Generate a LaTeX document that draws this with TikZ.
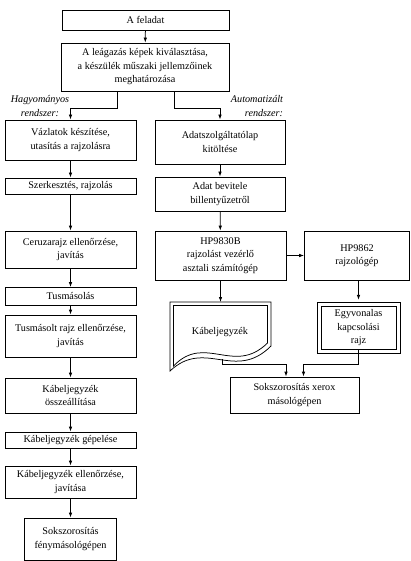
\documentclass[tikz,border=0pt]{standalone}
\usepackage{fontspec}
\setmainfont{Liberation Serif}
\usetikzlibrary{calc,arrows.meta}
\usetikzlibrary{positioning}

\begin{document}
\begin{tikzpicture}[x=1pt,y=-1pt,
  every node/.style={font=\fontsize{10.2}{13.5}\selectfont},
  blok/.style={draw, line width=0.75pt, align=center, inner sep=1pt},
  nyil/.style={line width=0.75pt, -{Latex[length=5pt,width=3.5pt]}}]
\useasboundingbox (0,0) rectangle (411,561);
% bal oszlop
\node[blok, minimum width=167pt, minimum height=20pt](feladat) at (145.5,20){A feladat};
\node[blok, minimum width=168pt, minimum height=48pt](leagazas) at (145,67){A leágazás képek kiválasztása,\\a készülék műszaki jellemzőinek\\meghatározása};
\node[font=\fontsize{10.2}{13.5}\selectfont\itshape, align=center](hagy) at (40,106){Hagyományos\\rendszer:};
\node[font=\fontsize{10.2}{13.5}\selectfont\itshape, align=right](auto) at (257,106){Automatizált\\rendszer:};
\node[blok, minimum width=131pt, minimum height=40pt](vazlat) at (70.5,140){Vázlatok készítése,\\utasítás a rajzolásra};
\node[blok, minimum width=131pt, minimum height=16pt](szerk) at (70.5,186){Szerkesztés, rajzolás};
\node[blok, minimum width=131pt, minimum height=37pt](ceruza) at (70.5,249.5){Ceruzarajz ellenőrzése,\\javítás};
\node[blok, minimum width=131pt, minimum height=18pt](tusmas) at (70.5,296.5){Tusmásolás};
\node[blok, minimum width=131pt, minimum height=42pt](tusmasolt) at (70.5,336){Tusmásolt rajz ellenőrzése,\\javítás};
\node[blok, minimum width=131pt, minimum height=35pt](kabossz) at (70.5,395.5){Kábeljegyzék\\összeállítása};
\node[blok, minimum width=131pt, minimum height=16pt](gepeles) at (70.5,440){Kábeljegyzék gépelése};
\node[blok, minimum width=131pt, minimum height=32pt](kabell) at (70.5,482){Kábeljegyzék ellenőrzése,\\javítása};
\node[blok, minimum width=92pt, minimum height=42pt](fenymas) at (70.5,539){Sokszorosítás\\fénymásológépen};
% jobb oszlop
\node[blok, minimum width=130pt, minimum height=44pt](adatlap) at (220,142){Adatszolgáltatólap\\kitöltése};
\node[blok, minimum width=130pt, minimum height=34pt](bevitel) at (220,194){Adat bevitele\\billentyűzetről};
\node[blok, minimum width=131pt, minimum height=49pt](hp30) at (220.5,255.5){HP9830B\\rajzolást vezérlő\\asztali számítógép};
\node[blok, minimum width=105pt, minimum height=49pt](hp62) at (357,255.5){HP9862\\rajzológép};
\node[blok, minimum width=75pt, minimum height=43pt](egyvon) at (358.5,328){Egyvonalas\\kapcsolási\\rajz};
\draw[line width=0.75pt] ([xshift=-3.5pt,yshift=-3.5pt]egyvon.south west) rectangle ([xshift=3.5pt,yshift=3.5pt]egyvon.north east);
\node[blok, minimum width=129pt, minimum height=36pt](xerox) at (294.5,395){Sokszorosítás xerox\\másológépen};
% dokumentum
\draw[line width=0.75pt] (170,302) -- (271,302) -- (271,346)
  .. controls (235,382) and (205,338) .. (170,371) -- cycle;
\draw[line width=0.75pt] (173.5,305.5) -- (267.5,305.5) -- (267.5,343)
  .. controls (234,376) and (205,333) .. (173.5,366) -- cycle;
\node(kabjegy) at (220,332){Kábeljegyzék};
\coordinate (doctop) at (220.5,302);
\coordinate (docbot) at (222,359);
% nyilak
\draw[nyil] (feladat) -- (leagazas);
\draw[nyil] ([xshift=-28pt]leagazas.south) -- ++(0,17) -| (vazlat.north);
\draw[nyil] ([xshift=29pt]leagazas.south) -- ++(0,17) -| (adatlap.north);
\draw[nyil] (vazlat) -- (szerk);
\draw[nyil] (szerk) -- (ceruza);
\draw[nyil] (ceruza) -- (tusmas);
\draw[nyil] (tusmas) -- (tusmasolt);
\draw[nyil] (tusmasolt) -- (kabossz);
\draw[nyil] (kabossz) -- (gepeles);
\draw[nyil] (gepeles) -- (kabell);
\draw[nyil] (kabell) -- (fenymas);
\draw[nyil] (adatlap) -- (bevitel);
\draw[nyil] (bevitel) -- (hp30);
\draw[nyil] (hp30) -- (hp62);
\draw[nyil] (hp30.south) -- (doctop);
\draw[nyil] (egyvon.north |- hp62.south) -- ++(0,19.5);
\draw[nyil] (docbot) -- ++(0,5) -| ([xshift=-8.5pt]xerox.north);
\draw[nyil] (egyvon.south) -- ++(0,14.5) -| ([xshift=9pt]xerox.north);
\end{tikzpicture}
\end{document}
